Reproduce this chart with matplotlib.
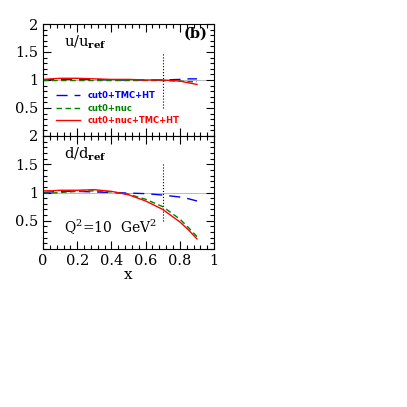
import numpy as np
import matplotlib
matplotlib.use('Agg')
import matplotlib.pyplot as plt
from matplotlib.ticker import MultipleLocator

plt.rcParams['font.family'] = 'DejaVu Serif'
plt.rcParams['mathtext.fontset'] = 'dejavuserif'

# datos
x = [0.0, 0.05, 0.1, 0.2, 0.3, 0.4, 0.5, 0.6, 0.7, 0.8, 0.85, 0.9]

u_tmc = [1.00, 1.01, 1.01, 1.01, 1.01, 1.00, 1.00, 1.00, 1.00, 1.01, 1.02, 1.02]
u_nuc = [0.99, 0.99, 0.99, 0.99, 0.99, 0.99, 0.99, 0.99, 0.99, 0.98, 0.97, 0.97]
u_all = [1.01, 1.02, 1.03, 1.03, 1.02, 1.01, 1.01, 1.00, 1.00, 0.98, 0.95, 0.92]

d_tmc = [1.00, 1.01, 1.02, 1.02, 1.01, 1.00, 0.99, 0.98, 0.955, 0.92, 0.89, 0.85]
d_nuc = [0.99, 0.99, 1.00, 1.02, 1.03, 1.01, 0.97, 0.88, 0.75, 0.53, 0.38, 0.22]
d_all = [1.03, 1.03, 1.04, 1.04, 1.05, 1.02, 0.96, 0.85, 0.70, 0.48, 0.34, 0.18]

series_labels = ['cut0+TMC+HT', 'cut0+nuc', 'cut0+nuc+TMC+HT']
colores = ['blue', 'green', 'red']

fig = plt.figure(figsize=(4.07, 4.07), dpi=100)
ax1 = fig.add_axes([0.1057, 0.666, 0.4203, 0.275])
ax2 = fig.add_axes([0.1057, 0.388, 0.4203, 0.278])

def estilo(ax):
    ax.set_xlim(0, 1)
    ax.set_ylim(0, 2)
    ax.xaxis.set_major_locator(MultipleLocator(0.2))
    ax.xaxis.set_minor_locator(MultipleLocator(0.04))
    ax.yaxis.set_major_locator(MultipleLocator(0.5))
    ax.yaxis.set_minor_locator(MultipleLocator(0.1))
    ax.tick_params(which='both', direction='in', top=True, right=True, labelsize=10.5)
    ax.tick_params(which='major', length=6, width=0.8)
    ax.tick_params(which='minor', length=3, width=0.8)
    ax.set_yticks([0.5, 1, 1.5, 2])
    ax.set_yticklabels(['0.5', '1', '1.5', '2'])
    ax.axhline(1, color='#bbbbbb', lw=0.7, zorder=0)
    ax.plot([0.7, 0.7], [0.5, 1.5], color='black', ls=':', lw=0.8)

estilo(ax1)
estilo(ax2)

ax1.plot(x, u_tmc, color=colores[0], ls=(0, (8, 5)), lw=1, label=series_labels[0])
ax1.plot(x, u_nuc, color=colores[1], ls=(0, (4, 2.5)), lw=1, label=series_labels[1])
ax1.plot(x, u_all, color=colores[2], ls='-', lw=1, label=series_labels[2])

ax2.plot(x, d_tmc, color=colores[0], ls=(0, (8, 5)), lw=1)
ax2.plot(x, d_nuc, color=colores[1], ls=(0, (4, 2.5)), lw=1)
ax2.plot(x, d_all, color=colores[2], ls='-', lw=1)

ax1.set_xticklabels([])
ax2.set_xticks([0, 0.2, 0.4, 0.6, 0.8, 1])
ax2.set_xticklabels(['0', '0.2', '0.4', '0.6', '0.8', '1'])
ax2.set_xlabel('x', fontsize=11, labelpad=0)

leg = ax1.legend(loc='lower left', bbox_to_anchor=(0.03, 0.03), frameon=False,
                 prop={'family': 'DejaVu Sans', 'weight': 'bold', 'size': 6},
                 handlelength=2.9, labelspacing=0.4, handletextpad=0.9)
for txt, c in zip(leg.get_texts(), colores):
    txt.set_color(c)

ax1.text(0.12, 0.80, r'u/u$_{\mathbf{ref}}$', transform=ax1.transAxes, fontsize=10.5)
ax1.text(0.96, 0.88, '(b)', transform=ax1.transAxes, fontsize=10.5, fontweight='bold', ha='right')
ax2.text(0.12, 0.80, r'd/d$_{\mathbf{ref}}$', transform=ax2.transAxes, fontsize=10.5)
ax2.text(0.12, 0.14, r'Q$^2$=10  GeV$^2$', transform=ax2.transAxes, fontsize=10)

plt.savefig('out.png', dpi=100)
